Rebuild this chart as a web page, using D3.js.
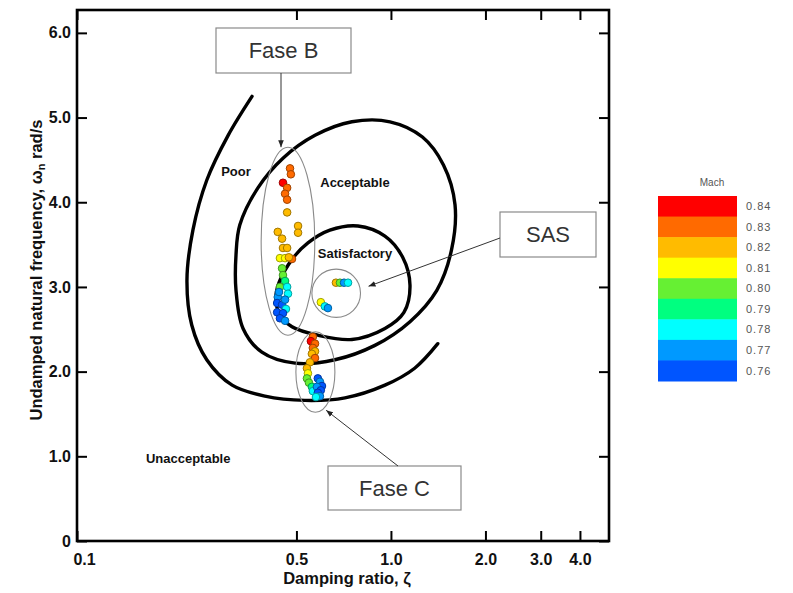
<!DOCTYPE html>
<html><head><meta charset="utf-8">
<script src="https://cdn.jsdelivr.net/npm/d3@7"></script>
<style>body{margin:0;background:#fff}svg{display:block}</style>
</head><body>
<svg id="c" width="793" height="593"></svg>
<script>
// ---------- data ----------
const xTicks = [0.1, 0.5, 1.0, 2.0, 3.0, 4.0];
const xTickLabels = ["0.1", "0.5", "1.0", "2.0", "3.0", "4.0"];
const yTicks = [0, 1, 2, 3, 4, 5, 6];
const yTickLabels = ["0", "1.0", "2.0", "3.0", "4.0", "5.0", "6.0"];

const machLevels = [0.84, 0.83, 0.82, 0.81, 0.80, 0.79, 0.78, 0.77, 0.76];
const machLabels = ["0.84", "0.83", "0.82", "0.81", "0.80", "0.79", "0.78", "0.77", "0.76"];
const machColors = ["#ff0000", "#ff6a00", "#ffbb00", "#ffff00", "#66f033", "#00ff80", "#00ffff", "#0099ff", "#0055ff"];

// Fase B points
const faseBZeta  = [0.477,0.480,0.453,0.467,0.460,0.467,0.467,0.506,0.506,0.436,0.450,0.453,0.467,0.443,0.460,0.484,0.473,0.450,0.453,0.460,0.443,0.467,0.470,0.436,0.434,0.450,0.460,0.463,0.434,0.453,0.443,0.460,0.440];
const faseBOmega = [4.40,4.33,4.23,4.17,4.10,4.03,3.88,3.72,3.64,3.65,3.57,3.46,3.46,3.34,3.34,3.33,3.35,3.22,3.14,3.07,3.00,3.00,2.92,2.88,2.81,2.79,2.85,2.74,2.70,2.69,2.63,2.60,2.94];
const faseBMach  = [0.83,0.83,0.84,0.83,0.83,0.83,0.82,0.82,0.82,0.82,0.82,0.82,0.82,0.81,0.81,0.83,0.82,0.80,0.80,0.79,0.80,0.78,0.78,0.77,0.76,0.76,0.77,0.78,0.76,0.76,0.76,0.77,0.77];

// SAS points
const sasZeta  = [0.668,0.688,0.709,0.730,0.598,0.616,0.630];
const sasOmega = [3.05,3.05,3.05,3.05,2.82,2.77,2.75];
const sasMach  = [0.82,0.80,0.77,0.78,0.81,0.78,0.77];

// Fase C points
const faseCZeta  = [0.564,0.556,0.573,0.564,0.573,0.560,0.573,0.552,0.540,0.544,0.540,0.548,0.560,0.564,0.585,0.594,0.603,0.581,0.598,0.585,0.594,0.577];
const faseCOmega = [2.41,2.36,2.33,2.28,2.24,2.21,2.16,2.11,2.04,1.98,1.92,1.87,1.82,1.77,1.92,1.88,1.83,1.82,1.78,1.75,1.71,1.70];
const faseCMach  = [0.83,0.84,0.83,0.83,0.82,0.82,0.83,0.82,0.82,0.81,0.80,0.80,0.79,0.78,0.76,0.77,0.76,0.77,0.76,0.76,0.77,0.78];

// Boundary curves (zeta, omega)
const outerZeta  = [0.361,0.303,0.259,0.234,0.224,0.232,0.259,0.312,0.397,0.532,0.714,0.957,1.19,1.41];
const outerOmega = [5.25,4.79,4.26,3.67,3.08,2.55,2.14,1.84,1.71,1.66,1.69,1.84,2.04,2.33];
const middleZeta  = [0.330,0.377,0.453,0.573,0.751,0.993,1.26,1.47,1.60,1.56,1.40,1.15,0.889,0.663,0.495,0.388,0.338,0.321,0.321];
const middleOmega = [3.73,4.17,4.52,4.79,4.95,4.95,4.77,4.44,3.97,3.44,2.96,2.59,2.31,2.14,2.10,2.23,2.51,2.96,3.38];
const innerZeta  = [0.4875,0.544,0.639,0.785,0.957,1.09,1.15,1.10,0.957,0.751,0.585,0.484,0.443,0.430,0.440];
const innerOmega = [3.34,3.52,3.67,3.72,3.60,3.35,3.02,2.70,2.51,2.38,2.43,2.53,2.67,2.87,3.05];

// Region labels
const regionNames = ["Poor", "Acceptable", "Satisfactory", "Unacceptable"];
const regionZeta  = [0.321, 0.768, 0.768, 0.226];
const regionOmega = [4.36, 4.23, 3.40, 0.98];

// Highlight ellipses: [zetaMin, zetaMax], [omegaMin, omegaMax]
const faseBZetaRange = [0.386, 0.572], faseBOmegaRange = [2.43, 4.65];
const sasZetaRange   = [0.560, 0.800], sasOmegaRange   = [2.64, 3.21];
const faseCZetaRange = [0.498, 0.663], faseCOmegaRange = [1.52, 2.47];

// ---------- layout ----------
const plot = {left: 77, right: 609, top: 10, bottom: 541};
const x = d3.scaleLog().domain([0.1, 4.95]).range([plot.left, plot.right]);
const y = d3.scaleLinear().domain([0, 6.27]).range([plot.bottom, plot.top]);
const color = d3.scaleOrdinal().domain(machLevels).range(machColors);

const svg = d3.select("#c");
const FONT = "'Liberation Sans', Arial, sans-serif";
const NARROW = "'Liberation Sans Narrow', 'Liberation Sans', Arial, sans-serif";

const defs = svg.append("defs");
defs.append("marker").attr("id", "arr").attr("viewBox", "0 0 10 10")
  .attr("refX", 10).attr("refY", 5).attr("markerWidth", 7).attr("markerHeight", 7)
  .attr("markerUnits", "userSpaceOnUse").attr("orient", "auto")
  .append("path").attr("d", "M0,1 L10,5 L0,9 z").attr("fill", "#222");

// boundary curves
const openLine = d3.line().x(d => x(d[0])).y(d => y(d[1])).curve(d3.curveCatmullRom.alpha(0.5));
const closedLine = d3.line().x(d => x(d[0])).y(d => y(d[1])).curve(d3.curveCatmullRomClosed.alpha(0.5));
const curves = svg.append("g").attr("fill", "none").attr("stroke", "#000").attr("stroke-width", 3.4).attr("stroke-linecap", "round");
curves.append("path").attr("d", openLine(d3.zip(outerZeta, outerOmega)));
curves.append("path").attr("d", closedLine(d3.zip(middleZeta, middleOmega)));
curves.append("path").attr("d", closedLine(d3.zip(innerZeta, innerOmega)));

// ellipses
function ellipse(zr, wr) {
  const x0 = x(zr[0]), x1 = x(zr[1]), y0 = y(wr[1]), y1 = y(wr[0]);
  return {cx: (x0 + x1) / 2, cy: (y0 + y1) / 2, rx: (x1 - x0) / 2, ry: (y1 - y0) / 2};
}
const ells = [ellipse(faseBZetaRange, faseBOmegaRange), ellipse(sasZetaRange, sasOmegaRange), ellipse(faseCZetaRange, faseCOmegaRange)];
svg.append("g").selectAll("ellipse").data(ells).join("ellipse")
  .attr("cx", d => d.cx).attr("cy", d => d.cy).attr("rx", d => d.rx).attr("ry", d => d.ry)
  .attr("fill", "none").attr("stroke", "#8a8a8a").attr("stroke-width", 1.1);

// region labels
svg.append("g").selectAll("text").data(regionNames).join("text")
  .attr("x", (d, i) => x(regionZeta[i])).attr("y", (d, i) => y(regionOmega[i]))
  .attr("dy", "0.35em").attr("text-anchor", "middle")
  .attr("font-family", NARROW).attr("font-weight", "bold").attr("font-size", 13)
  .attr("fill", "#111").text(d => d);

// points
const pts = [];
[[faseBZeta, faseBOmega, faseBMach], [sasZeta, sasOmega, sasMach], [faseCZeta, faseCOmega, faseCMach]].forEach(g => {
  g[0].forEach((z, i) => pts.push({z: z, w: g[1][i], m: g[2][i]}));
});
svg.append("g").selectAll("circle").data(pts).join("circle")
  .attr("cx", d => x(d.z)).attr("cy", d => y(d.w)).attr("r", 3.8)
  .attr("fill", d => color(d.m))
  .attr("stroke", d => d3.color(color(d.m)).darker(1.3))
  .attr("stroke-width", 1);

// axes (inward ticks on all sides)
const axB = d3.axisBottom(x).tickValues(xTicks).tickSizeInner(-10).tickSizeOuter(0).tickPadding(13)
  .tickFormat((d, i) => xTickLabels[i]);
const axL = d3.axisLeft(y).tickValues(yTicks).tickSizeInner(-10).tickSizeOuter(0).tickPadding(6)
  .tickFormat((d, i) => yTickLabels[i]);
const gB = svg.append("g").attr("transform", `translate(0,${plot.bottom})`).call(axB);
const gL = svg.append("g").attr("transform", `translate(${plot.left},0)`).call(axL);
svg.append("g").attr("transform", `translate(0,${plot.top})`).call(d3.axisTop(x).tickValues(xTicks).tickSizeInner(-10).tickSizeOuter(0).tickFormat(""));
svg.append("g").attr("transform", `translate(${plot.right},0)`).call(d3.axisRight(y).tickValues(yTicks).tickSizeInner(-10).tickSizeOuter(0).tickFormat(""));
svg.selectAll(".domain").remove();
svg.selectAll(".tick line").attr("stroke", "#000").attr("stroke-width", 2);
[gB, gL].forEach(g => g.selectAll(".tick text").attr("font-family", FONT).attr("font-weight", "bold")
  .attr("font-size", 16).attr("fill", "#111"));
gB.selectAll(".tick text").filter(d => d === 0.1).attr("dx", 7);

// frame
svg.append("rect").attr("x", plot.left).attr("y", plot.top)
  .attr("width", plot.right - plot.left).attr("height", plot.bottom - plot.top)
  .attr("fill", "none").attr("stroke", "#000").attr("stroke-width", 2.6);

// axis titles
svg.append("text").attr("x", 347).attr("y", 584).attr("text-anchor", "middle")
  .attr("font-family", FONT).attr("font-weight", "bold").attr("font-size", 16.5).attr("fill", "#111")
  .text("Damping ratio, ζ");
const yt = svg.append("text").attr("transform", "translate(42,270) rotate(-90)").attr("text-anchor", "middle")
  .attr("font-family", FONT).attr("font-weight", "bold").attr("font-size", 16.5).attr("fill", "#111");
yt.append("tspan").text("Undamped natural frequency, ω");
yt.append("tspan").attr("font-size", 11).attr("dy", 3).text("n");
yt.append("tspan").attr("dy", -3).text(" rad/s");

// legend
const lg = {x: 658, y: 196, w: 79, h: 185 / 9};
svg.append("text").attr("x", 712).attr("y", 186).attr("text-anchor", "middle")
  .attr("font-family", FONT).attr("font-size", 10).attr("fill", "#555").text("Mach");
svg.append("g").selectAll("rect").data(machLevels).join("rect")
  .attr("x", lg.x).attr("y", (d, i) => lg.y + i * lg.h).attr("width", lg.w).attr("height", lg.h + 0.5)
  .attr("fill", d => color(d));
svg.append("g").selectAll("text").data(machLabels).join("text")
  .attr("x", 746).attr("y", (d, i) => lg.y + (i + 0.5) * lg.h).attr("dy", "0.35em")
  .attr("font-family", FONT).attr("font-size", 11).attr("letter-spacing", 1).attr("fill", "#555").text(d => d);

// annotation boxes
const boxes = [
  {label: "Fase B", x: 216, y: 28, w: 135, h: 45},
  {label: "SAS", x: 500, y: 212, w: 96, h: 45},
  {label: "Fase C", x: 328, y: 466, w: 133, h: 44}
];
const gA = svg.append("g");
gA.selectAll("rect").data(boxes).join("rect")
  .attr("x", d => d.x).attr("y", d => d.y).attr("width", d => d.w).attr("height", d => d.h)
  .attr("fill", "#fff").attr("stroke", "#8a8a8a").attr("stroke-width", 1.2);
gA.selectAll("text").data(boxes).join("text")
  .attr("x", d => d.x + d.w / 2).attr("y", d => d.y + d.h / 2).attr("dy", "0.36em").attr("text-anchor", "middle")
  .attr("font-family", FONT).attr("font-size", 22).attr("fill", "#333").text(d => d.label);

// arrows to ellipses
const eB = ells[0], eS = ells[1], eC = ells[2];
const arrows = [
  [281, 28 + 45, 281, eB.cy - eB.ry],
  [500, 238, eS.cx + eS.rx + 8, eS.cy - 7],
  [398, 466, eC.cx + eC.rx * 0.55, eC.cy + eC.ry * 0.95]
];
gA.selectAll("line").data(arrows).join("line")
  .attr("x1", d => d[0]).attr("y1", d => d[1]).attr("x2", d => d[2]).attr("y2", d => d[3])
  .attr("stroke", "#333").attr("stroke-width", 1).attr("marker-end", "url(#arr)");
</script>
</body></html>
